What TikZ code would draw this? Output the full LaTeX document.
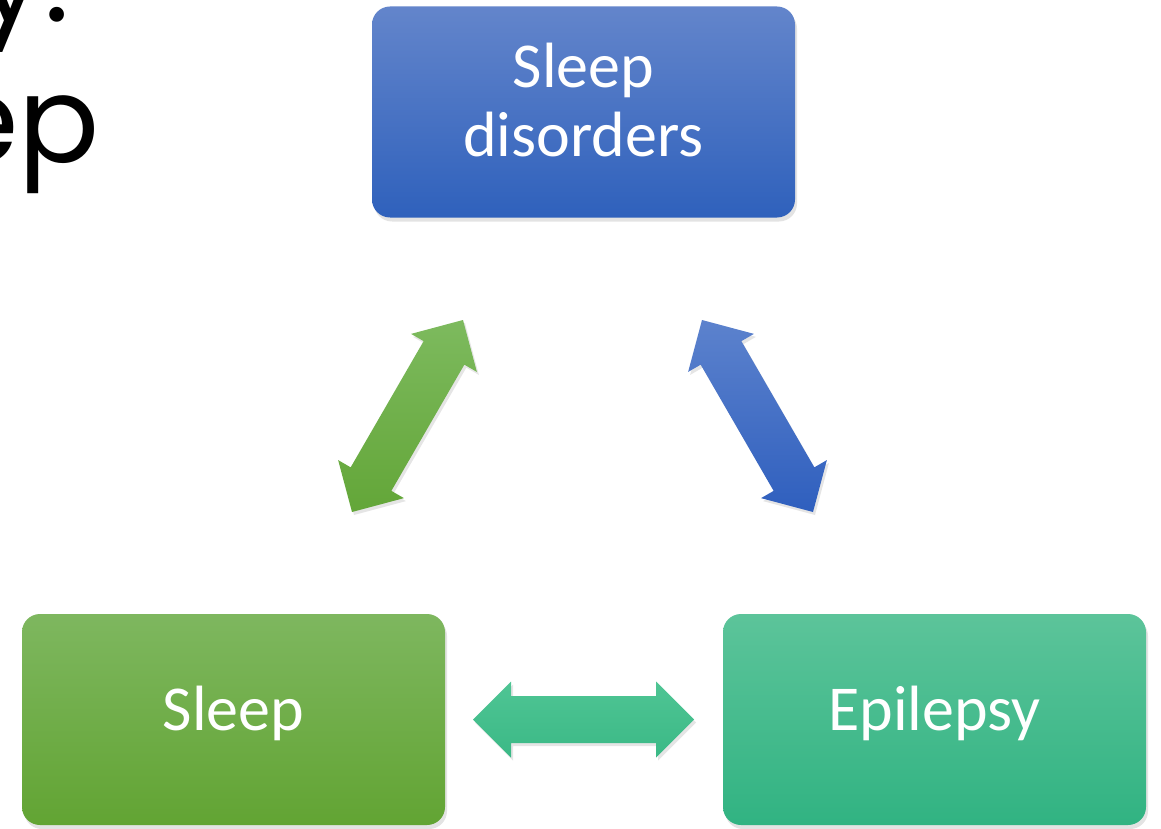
\documentclass[tikz,border=0pt]{standalone}
\usepackage{fontspec}
\setmainfont{Carlito}
\newfontfamily\titlefont{Poppins}
\usetikzlibrary{calc,shadows}
\definecolor{blueTop}{HTML}{6385CB}
\definecolor{blueBot}{HTML}{2F61BC}
\definecolor{greenTop}{HTML}{7EB75F}
\definecolor{greenBot}{HTML}{62A433}
\definecolor{tealTop}{HTML}{5CC49A}
\definecolor{tealBot}{HTML}{31B382}
\definecolor{agreenTop}{HTML}{7DBA5E}
\definecolor{agreenBot}{HTML}{63A638}
\definecolor{ablueTop}{HTML}{5C82CD}
\definecolor{ablueBot}{HTML}{2F5FBE}
\definecolor{atealTop}{HTML}{4FC594}
\definecolor{atealBot}{HTML}{3BB986}
\tikzset{
  box/.style={rounded corners=18pt, minimum width=423pt, minimum height=211pt,
    inner sep=0pt, draw=none,
    drop shadow={shadow xshift=2pt, shadow yshift=-4pt, opacity=0.22}},
  lbl/.style={text=white, font=\fontsize{64}{69}\selectfont, inner sep=0pt},
  ttl/.style={text=black, font=\titlefont\fontsize{120}{130}\selectfont, inner sep=0pt},
  ashadow/.style={drop shadow={shadow xshift=2pt, shadow yshift=-3pt, opacity=0.2}}
}
% block double arrow from #1 to #2, shading #3 -> #4
\newcommand\bidiarrow[4]{%
  \shade[top color=#3, bottom color=#4, ashadow]
    (#1)
    -- ($(#1)!38pt!(#2)!38pt!90:(#2)$)
    -- ($(#1)!38pt!(#2)!23.5pt!90:(#2)$)
    -- ($(#2)!38pt!(#1)!23.5pt!-90:(#1)$)
    -- ($(#2)!38pt!(#1)!38pt!-90:(#1)$)
    -- (#2)
    -- ($(#2)!38pt!(#1)!38pt!90:(#1)$)
    -- ($(#2)!38pt!(#1)!23.5pt!90:(#1)$)
    -- ($(#1)!38pt!(#2)!23.5pt!-90:(#2)$)
    -- ($(#1)!38pt!(#2)!38pt!-90:(#2)$)
    -- cycle;%
}
\begin{document}
\begin{tikzpicture}[x=1pt, y=-1pt]
\useasboundingbox (0,0) rectangle (1161,829);
\clip (0,0) rectangle (1161,829);
\fill[white] (0,0) rectangle (1161,829);

% partial title text at the top left
\node[ttl, anchor=base east] (t1) at (70,22) {y:};
\node[ttl, anchor=base east] (t2) at (100,163) {ep};

% boxes
\node[box, top color=blueTop, bottom color=blueBot] (sd) at (583.5,112) {};
\node[box, top color=greenTop, bottom color=greenBot] (sl) at (233.5,719.5) {};
\node[box, top color=tealTop, bottom color=tealBot] (ep) at (934.5,719.5) {};

\node[lbl, align=center, anchor=base] (sdt) at ($(sd.center)+(0,45)$) {Sleep\\disorders};
\node[lbl, anchor=base] (slt) at ($(sl.center)+(0,10.5)$) {Sleep};
\node[lbl, anchor=base] (ept) at ($(ep.center)+(0,10.5)$) {Epilepsy};

% arrow end points
\coordinate (g1) at (352,512);
\coordinate (g2) at (463,320);
\coordinate (b1) at (702,320);
\coordinate (b2) at (813,512);
\coordinate (h1) at (473,719.5);
\coordinate (h2) at (694,719.5);

\bidiarrow{g1}{g2}{agreenTop}{agreenBot}
\bidiarrow{b1}{b2}{ablueTop}{ablueBot}
\bidiarrow{h1}{h2}{atealTop}{atealBot}
\end{tikzpicture}
\end{document}
